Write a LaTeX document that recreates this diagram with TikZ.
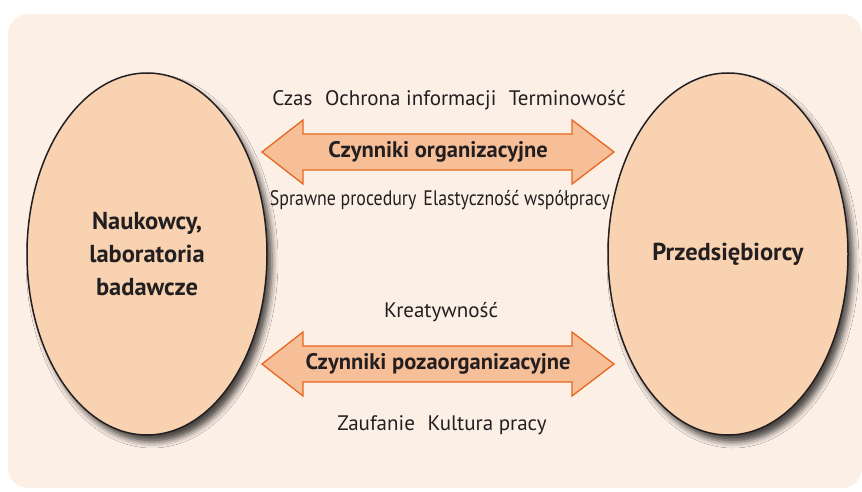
\documentclass[tikz,border=0pt]{standalone}
\usepackage{fontspec}
\setmainfont{PT Sans}
\usetikzlibrary{positioning,shapes.geometric,shadows.blur}
\definecolor{paperC}{HTML}{FCEFE6}
\definecolor{ovalC}{HTML}{F8D2B1}
\definecolor{arrowC}{HTML}{F7BF98}
\definecolor{rimC}{HTML}{E9661F}
\definecolor{inkC}{HTML}{231F20}

\tikzset{
  party/.style={ellipse,draw=inkC,line width=1.5pt,fill=ovalC,
    minimum width=240,minimum height=362,inner sep=0pt,align=center,
    text=inkC,font=\bfseries\fontsize{24.5}{33}\selectfont,
    blur shadow={shadow xshift=5pt,shadow yshift=-7pt,shadow blur radius=6pt,
      shadow opacity=70}},
  factorbody/.style={fill=arrowC,draw=rimC,line width=1.3pt,line join=miter},
  factorname/.style={text=inkC,font=\bfseries\fontsize{22.5}{26}\selectfont},
  remark/.style={text=inkC,font=\fontsize{21}{24}\selectfont}
}
\newcommand{\factorarrow}[1]{%
  \draw[factorbody,shift={(#1)}] (-176,0) -- (-135,-32) -- (-135,-18)
    -- (134,-18) -- (134,-32) -- (176,0) -- (134,32) -- (134,18)
    -- (-135,18) -- (-135,32) -- cycle;}

\begin{document}
\begin{tikzpicture}[x=1pt,y=-1pt]
  \useasboundingbox (0,0) rectangle (862,492);
  \fill[paperC,rounded corners=20] (8,14) rectangle (862,488);

  % the two sides
  \node[party] (science) at (147,254) {Naukowcy,\\laboratoria\\badawcze};
  \node[party] (business) at (728,254) {Przedsiębiorcy};

  % organisational factors
  \coordinate (orgC) at (438,152);
  \factorarrow{orgC}
  \node[factorname] (org) at (orgC) {Czynniki organizacyjne};
  \node[remark] (orgTop) at (449,100)
    {Czas\hspace{0.6em}Ochrona informacji\hspace{0.6em}Terminowość};
  \node[remark] (orgLow) at (440,200)
    {\scalebox{0.85}[1]{Sprawne procedury\hspace{0.4em}Elastyczność współpracy}};

  % non-organisational factors
  \coordinate (extC) at (438,364);
  \factorarrow{extC}
  \node[factorname] (ext) at (extC) {Czynniki pozaorganizacyjne};
  \node[remark] (extTop) at (441,312) {Kreatywność};
  \node[remark] (extLow) at (442,425) {Zaufanie\hspace{0.6em}Kultura pracy};
\end{tikzpicture}
\end{document}
